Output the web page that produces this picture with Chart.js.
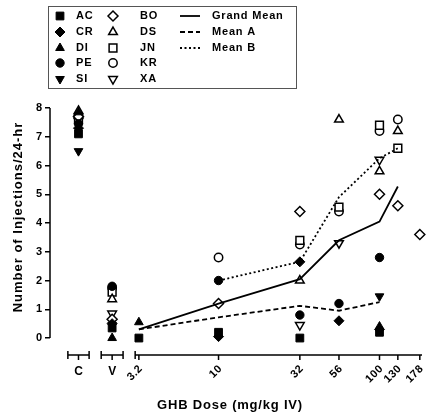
<!DOCTYPE html>
<html>
<head>
<meta charset="utf-8">
<script src="https://cdn.jsdelivr.net/npm/chart.js@4.4.1/dist/chart.umd.min.js"></script>
<style>
body { margin: 0; background: #fff; }
#wrap { width: 429px; height: 418px; }
</style>
</head>
<body>
<div id="wrap"><canvas id="chart"></canvas></div>
<script>
// groups on the x axis: control, vehicle, then GHB doses (mg/kg IV)
const groupLabels = ['C', 'V'];
const doseLabels = ['3.2', '10', '32', '56', '100', '130', '178'];
const doses = [3.2, 10, 32, 56, 100, 130, 178];
const yTicks = [0, 1, 2, 3, 4, 5, 6, 7, 8];

// injections / 24-hr per subject, order: C, V, 3.2, 10, 32, 56, 100, 130, 178
const AC = [7.1, 0.35, 0, 0.2, 0, null, 0.2, null, null];
const CR = [7.3, 0.5, null, 0.05, 2.65, 0.6, 0.3, null, null];
const DI = [7.85, 0, 0.55, null, null, null, 0.4, null, null];
const PE = [7.45, 1.8, null, 2.0, 0.8, 1.2, 2.8, null, null];
const SI = [6.5, 0.45, null, null, null, null, 1.45, null, null];
const BO = [7.7, 0.65, null, 1.2, 4.4, null, 5.0, 4.6, 3.6];
const DS = [7.9, 1.35, null, null, 2.0, 7.6, 5.8, 7.2, null];
const JN = [7.6, 1.6, null, null, 3.4, 4.55, 7.4, 6.6, null];
const KR = [7.75, 1.75, null, 2.8, 3.25, 4.4, 7.2, 7.6, null];
const XA = [7.55, 0.85, null, null, 0.45, 3.3, 6.2, null, null];

// means, doses only (3.2 ... 178)
const grandMean = [0.3, 1.2, 2.05, 3.4, 4.05, 5.27, null];
const meanA = [0.3, 0.72, 1.12, 0.95, 1.25, null, null];
const meanB = [null, 2.0, 2.65, 4.9, 6.25, 6.6, null];

// x is log10(dose); C and V sit left of the dose axis
const groupX = [0.13, 0.339];
const xPos = groupX.concat(doses.map(d => Math.log10(d)));

const FONT = '"Liberation Sans", Arial, sans-serif';
Chart.defaults.font.family = FONT;
Chart.defaults.color = '#000';

const radii = { rect: 5.5, rectRot: 5, triangle: 5, circle: 4.2 };

const subjects = [
	{ label: 'AC', data: AC, style: 'rect', filled: true },
	{ label: 'CR', data: CR, style: 'rectRot', filled: true },
	{ label: 'DI', data: DI, style: 'triangle', filled: true },
	{ label: 'PE', data: PE, style: 'circle', filled: true },
	{ label: 'SI', data: SI, style: 'triangle', rot: 180, filled: true },
	{ label: 'BO', data: BO, style: 'rectRot', filled: false },
	{ label: 'DS', data: DS, style: 'triangle', filled: false },
	{ label: 'JN', data: JN, style: 'rect', filled: false },
	{ label: 'KR', data: KR, style: 'circle', filled: false },
	{ label: 'XA', data: XA, style: 'triangle', rot: 180, filled: false }
];

const means = [
	{ label: 'Grand Mean', data: grandMean, dash: [] },
	{ label: 'Mean A', data: meanA, dash: [5, 3] },
	{ label: 'Mean B', data: meanB, dash: [2, 2.5] }
];

let datasets = [];
means.forEach(function(m) {
	datasets.push({
		label: m.label,
		data: doses.map((d, i) => ({ x: Math.log10(d), y: m.data[i] })).filter(p => p.y !== null),
		showLine: true,
		borderColor: '#000',
		borderWidth: 1.8,
		borderDash: m.dash,
		pointRadius: 0,
		fill: false,
		clip: false
	});
});
subjects.forEach(function(s) {
	datasets.push({
		label: s.label,
		data: s.data.map((v, i) => ({ x: xPos[i], y: v })).filter(p => p.y !== null),
		showLine: false,
		pointStyle: s.style,
		pointRotation: s.rot || 0,
		pointRadius: radii[s.style],
		backgroundColor: s.filled ? '#000' : '#fff',
		borderColor: '#000',
		borderWidth: s.filled ? 1 : 1.5,
		clip: false
	});
});

// broken x axis, y axis line, tick labels, titles and the boxed legend
const decorPlugin = {
	id: 'decor',
	afterDraw(chart) {
		const ctx = chart.ctx;
		const xs = chart.scales.x, ys = chart.scales.y;
		const area = chart.chartArea;
		ctx.save();
		ctx.strokeStyle = '#000';
		ctx.fillStyle = '#000';
		ctx.lineWidth = 1.5;

		// y axis line 0..8
		ctx.beginPath();
		ctx.moveTo(area.left, ys.getPixelForValue(yTicks[0]));
		ctx.lineTo(area.left, ys.getPixelForValue(yTicks[yTicks.length - 1]));
		ctx.stroke();

		// x axis pieces
		const ay = area.bottom;
		const segs = [
			[groupX[0] - 0.066, groupX[0] + 0.066],
			[groupX[1] - 0.068, groupX[1] + 0.068],
			[0.482, xs.max]
		];
		segs.forEach(function(sg, k) {
			let a = xs.getPixelForValue(sg[0]), b = xs.getPixelForValue(sg[1]);
			ctx.beginPath();
			ctx.moveTo(a, ay); ctx.lineTo(b, ay);
			ctx.moveTo(a, ay - 4); ctx.lineTo(a, ay + 4);
			if (k < 2) { ctx.moveTo(b, ay - 4); ctx.lineTo(b, ay + 4); }
			ctx.stroke();
		});
		ctx.beginPath();
		xPos.forEach(function(p) {
			let px = xs.getPixelForValue(p);
			ctx.moveTo(px, ay); ctx.lineTo(px, ay + 5);
		});
		ctx.stroke();

		ctx.font = 'bold 12px ' + FONT;
		ctx.textAlign = 'center';
		ctx.textBaseline = 'middle';
		groupLabels.forEach(function(t, i) {
			ctx.fillText(t, xs.getPixelForValue(groupX[i]), ay + 17);
		});
		ctx.font = 'bold 11px ' + FONT;
		ctx.letterSpacing = '0.5px';
		doseLabels.forEach(function(t, i) {
			ctx.save();
			ctx.translate(xs.getPixelForValue(Math.log10(doses[i])) + 2, ay + 12);
			ctx.rotate(-Math.PI / 4);
			ctx.textAlign = 'right';
			ctx.fillText(t, 0, 0);
			ctx.restore();
		});

		// axis titles
		ctx.font = 'bold 13px ' + FONT;
		ctx.letterSpacing = '0.8px';
		ctx.textAlign = 'center';
		ctx.fillText('GHB Dose (mg/kg IV)', 230, 405);
		ctx.save();
		ctx.letterSpacing = '1px';
		ctx.translate(18, 217);
		ctx.rotate(-Math.PI / 2);
		ctx.fillText('Number of Injections/24-hr', 0, 0);
		ctx.restore();

		// legend
		ctx.lineWidth = 1;
		ctx.strokeStyle = '#555';
		ctx.strokeRect(48.5, 6.5, 248, 82);
		ctx.font = 'bold 11px ' + FONT;
		ctx.letterSpacing = '0.8px';
		ctx.textAlign = 'left';
		ctx.strokeStyle = '#000';
		const rowY = [16, 32, 48, 63, 79];
		subjects.forEach(function(s, i) {
			let col = Math.floor(i / 5), row = i % 5;
			let mx = col === 0 ? 60 : 113, tx = col === 0 ? 76 : 140;
			ctx.fillStyle = s.filled ? '#000' : '#fff';
			ctx.lineWidth = s.filled ? 1 : 1.5;
			Chart.helpers.drawPoint(ctx, {
				pointStyle: s.style, radius: radii[s.style], rotation: s.rot || 0, borderWidth: ctx.lineWidth
			}, mx, rowY[row]);
			ctx.fillStyle = '#000';
			ctx.fillText(s.label, tx, rowY[row]);
		});
		means.forEach(function(m, i) {
			ctx.lineWidth = 1.8;
			ctx.setLineDash(m.dash);
			ctx.beginPath();
			ctx.moveTo(180, rowY[i]); ctx.lineTo(200, rowY[i]);
			ctx.stroke();
			ctx.setLineDash([]);
			ctx.fillText(m.label, 212, rowY[i]);
		});
		ctx.restore();
	}
};

new Chart(document.getElementById('chart'), {
	type: 'scatter',
	data: { datasets: datasets },
	options: {
		responsive: true,
		maintainAspectRatio: false,
		animation: false,
		events: [],
		layout: { padding: { top: 108, left: 0, right: 0, bottom: 0 } },
		scales: {
			x: {
				type: 'linear',
				min: -0.047,
				max: 2.264,
				afterFit: function(s) { s.height = 63; },
				grid: { display: false },
				border: { display: false },
				ticks: { display: false }
			},
			y: {
				min: -0.59,
				max: 8,
				afterBuildTicks: function(s) { s.ticks = yTicks.map(v => ({ value: v })); },
				afterFit: function(s) { s.width = 50; },
				grid: { drawOnChartArea: false, color: '#000', lineWidth: 1.5, tickLength: 5 },
				border: { display: false },
				ticks: { font: { size: 11, weight: 'bold' }, padding: 3 }
			}
		},
		plugins: {
			legend: { display: false },
			tooltip: { enabled: false }
		}
	},
	plugins: [decorPlugin]
});
</script>
</body>
</html>
